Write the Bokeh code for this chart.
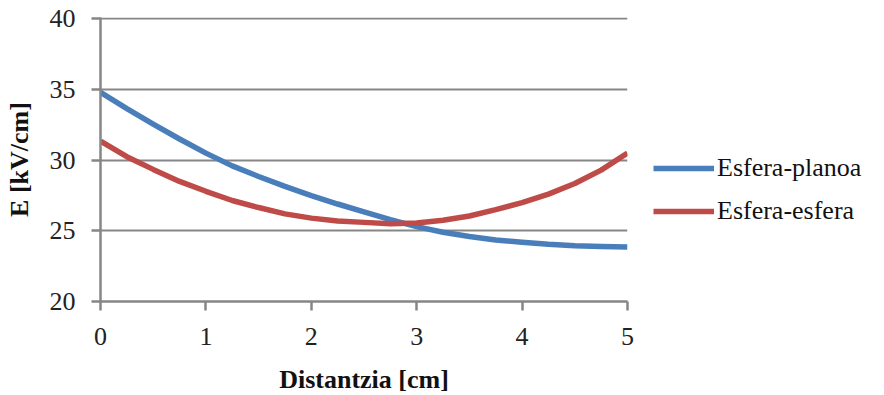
from bokeh.plotting import figure
from bokeh.models import Range1d, Legend, LegendItem, FixedTicker
from bokeh.embed import file_html
from bokeh.resources import INLINE

distance_cm = [0, 0.25, 0.5, 0.75, 1, 1.25, 1.5, 1.75, 2, 2.25, 2.5,
               2.75, 3, 3.25, 3.5, 3.75, 4, 4.25, 4.5, 4.75, 5]
esfera_planoa = [34.8, 33.65, 32.55, 31.5, 30.5, 29.6, 28.85, 28.15, 27.5, 26.9, 26.35,
                 25.8, 25.3, 24.9, 24.6, 24.35, 24.2, 24.05, 23.95, 23.9, 23.85]
esfera_esfera = [31.35, 30.25, 29.35, 28.5, 27.8, 27.15, 26.65, 26.2, 25.9, 25.7, 25.6,
                 25.5, 25.55, 25.75, 26.05, 26.5, 27.0, 27.6, 28.35, 29.3, 30.5]
x_ticks = [0, 1, 2, 3, 4, 5]
y_ticks = [20, 25, 30, 35, 40]
series_names = ["Esfera-planoa", "Esfera-esfera"]

FONT = "Liberation Serif"
AXIS_GREY = "#868686"

p = figure(frame_width=527, frame_height=284, output_backend="svg", toolbar_location=None,
           x_range=Range1d(0, 5), y_range=Range1d(20, 40.1),
           min_border_left=100, min_border_right=0,
           min_border_top=17, min_border_bottom=94)
p.outline_line_color = None
p.background_fill_color = "white"
p.border_fill_color = "white"

p.xgrid.grid_line_color = None
p.ygrid.ticker = FixedTicker(ticks=y_ticks[1:])
p.ygrid.grid_line_color = AXIS_GREY
p.ygrid.grid_line_width = 2

p.xaxis.ticker = FixedTicker(ticks=x_ticks)
p.yaxis.ticker = FixedTicker(ticks=y_ticks)

for ax in (p.xaxis[0], p.yaxis[0]):
    ax.axis_line_color = AXIS_GREY
    ax.axis_line_width = 2.5
    ax.major_tick_line_color = AXIS_GREY
    ax.major_tick_line_width = 2.5
    ax.major_tick_out = 9
    ax.major_tick_in = 0
    ax.minor_tick_line_color = None
    ax.major_label_text_font = FONT
    ax.major_label_text_font_size = "26px"
    ax.major_label_text_color = "#222222"
    ax.axis_label_text_font = FONT
    ax.axis_label_text_font_size = "26px"
    ax.axis_label_text_font_style = "bold"
    ax.axis_label_text_color = "#111111"

p.xaxis.axis_label = "Distantzia [cm]"
p.yaxis.axis_label = "E [kV/cm]"
p.xaxis.major_label_standoff = 17
p.yaxis.major_label_standoff = 16
p.xaxis.axis_label_standoff = 17
p.yaxis.axis_label_standoff = 13

r1 = p.line(distance_cm, esfera_planoa, line_color="#4A7EBB", line_width=5.5)
r2 = p.line(distance_cm, esfera_esfera, line_color="#BE4B48", line_width=5.5)

legend = Legend(items=[LegendItem(label=series_names[0], renderers=[r1]),
                       LegendItem(label=series_names[1], renderers=[r2])],
                location=(26, 75), orientation="vertical")
legend.label_text_font = FONT
legend.label_text_font_size = "26px"
legend.label_text_color = "#111111"
legend.glyph_width = 61
legend.glyph_height = 20
legend.label_height = 20
legend.spacing = 13
legend.padding = 0
legend.margin = 0
legend.label_standoff = 3
legend.border_line_color = None
legend.background_fill_alpha = 0
p.add_layout(legend, "right")

open("out.html", "w").write(file_html(p, INLINE))
